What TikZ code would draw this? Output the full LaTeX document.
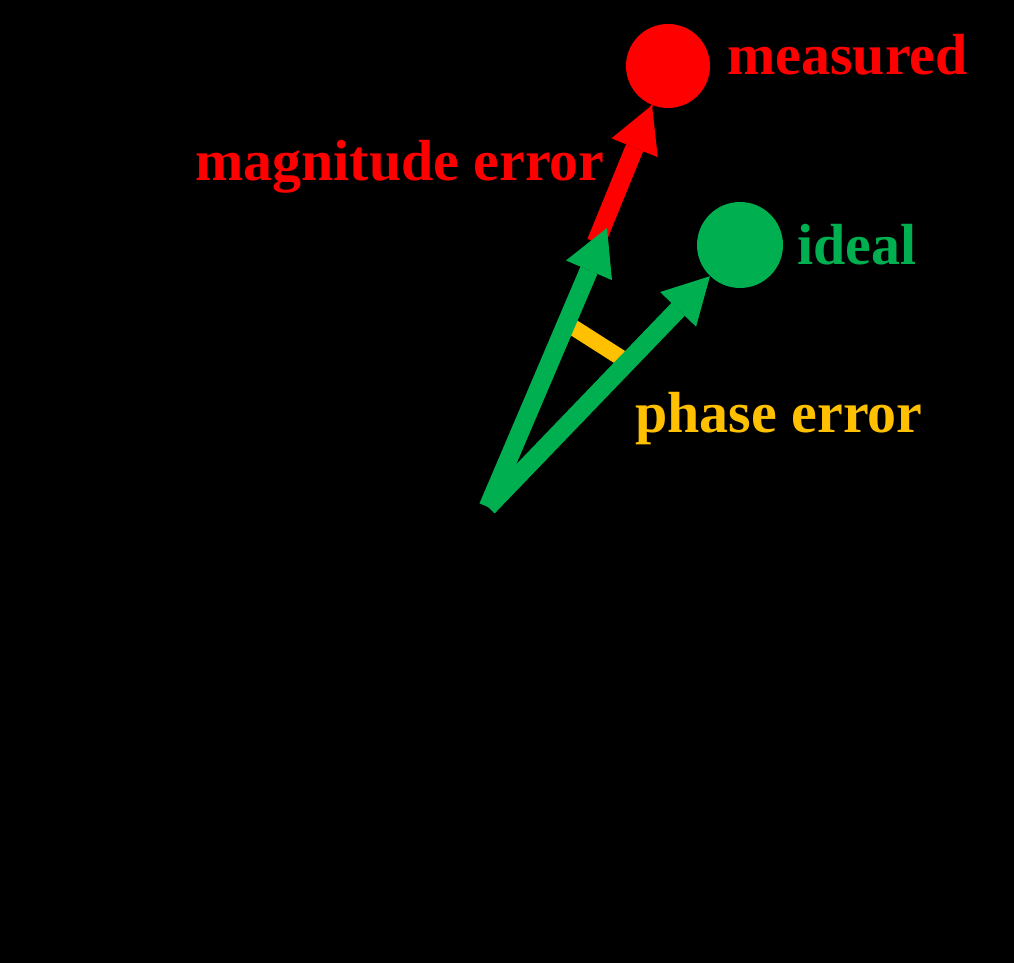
\documentclass[tikz,border=0pt]{standalone}
\usepackage{fontspec}
\setmainfont{Liberation Serif}
\usepackage{tikz}
\usetikzlibrary{arrows.meta, positioning, calc}
\definecolor{errred}{HTML}{FF0000}
\definecolor{idealgreen}{HTML}{00B050}
\definecolor{phasegold}{HTML}{FFC000}

\begin{document}
\begin{tikzpicture}[x=0.02cm, y=0.02cm,
    dot/.style={circle, inner sep=0pt},
    lbl/.style={font=\fontsize{33}{40}\selectfont\bfseries, inner sep=0pt},
    vec/.style={line width=0.37cm, -{Triangle[length=0.92cm, width=1.0cm, line width=0pt]}}]

    \fill [black] (0,0) rectangle (1014,963);
    \useasboundingbox (0,0) rectangle (1014,963);

    \coordinate (origin) at (488,456);
    \coordinate (rotated) at (607,735);
    \node [dot, fill=errred, minimum size=1.68cm] (measured) at (668,897) {};
    \node [dot, fill=idealgreen, minimum size=1.72cm] (ideal) at (740,718) {};

    \node [lbl, text=errred, anchor=base west] (measuredlbl) at (727,888) {measured};
    \node [lbl, text=errred, anchor=base east] (magnitudelbl) at (605,782) {magnitude error};
    \node [lbl, text=idealgreen, anchor=base west] (ideallbl) at (797,698) {ideal};
    \node [lbl, text=phasegold, anchor=base west] (phaselbl) at (635,530) {phase error};

    \draw [phasegold, line width=0.32cm] ($(origin)+(45:202)$) -- ($(origin)+(67:200)$);
    \draw [errred, line width=0.04cm] (origin) -- (measured);
    \draw [vec, errred] ($(origin)!0.6!(measured)$) -- (measured);
    \draw [vec, idealgreen] (origin) -- (rotated);
    \draw [vec, idealgreen] (origin) -- (ideal);
\end{tikzpicture}
\end{document}
